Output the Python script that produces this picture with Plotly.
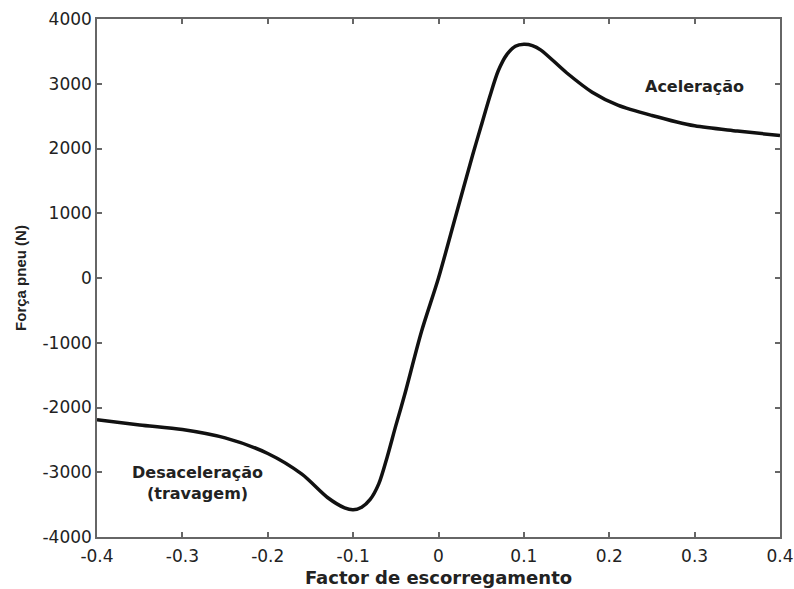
import plotly.graph_objects as go

slip = [-0.4, -0.35, -0.3, -0.25, -0.2, -0.16, -0.13, -0.11, -0.1, -0.09, -0.08, -0.07,
        -0.06, -0.05, -0.04, -0.02, 0.0, 0.02, 0.04, 0.05, 0.06, 0.07, 0.08, 0.09, 0.1,
        0.11, 0.12, 0.15, 0.18, 0.21, 0.25, 0.3, 0.35, 0.4]
force = [-2190, -2270, -2340, -2470, -2710, -3030, -3390, -3550, -3580, -3540, -3420, -3180,
         -2760, -2280, -1820, -830, 0, 950, 1900, 2350, 2800, 3200, 3450, 3580, 3610,
         3590, 3520, 3170, 2870, 2670, 2510, 2350, 2270, 2200]

x_ticks = [-0.4, -0.3, -0.2, -0.1, 0, 0.1, 0.2, 0.3, 0.4]
x_tick_text = ["-0.4", "-0.3", "-0.2", "-0.1", "0", "0.1", "0.2", "0.3", "0.4"]
y_ticks = [-4000, -3000, -2000, -1000, 0, 1000, 2000, 3000, 4000]
y_tick_text = ["-4000", "-3000", "-2000", "-1000", "0", "1000", "2000", "3000", "4000"]

WIDE = "DejaVu Sans, Verdana, sans-serif"
NARROW = "Liberation Sans, Arial, sans-serif"
INK = "#222222"

fig = go.Figure()
fig.add_trace(go.Scatter(x=slip, y=force, mode="lines",
                         line=dict(color="#111111", width=3.5, shape="spline", smoothing=0.8),
                         showlegend=False, hoverinfo="skip"))

axis_common = dict(showgrid=False, zeroline=False, showline=True, linecolor="#666666",
                   linewidth=1.5, mirror="ticks", ticks="inside", ticklen=5,
                   tickcolor="#666666", tickwidth=1.5, automargin=False,
                   tickfont=dict(family=WIDE, size=17, color=INK))

fig.update_xaxes(range=[-0.4, 0.4], tickvals=x_ticks, ticktext=x_tick_text,
                 ticklabelstandoff=3,
                 title=dict(text="<b>Factor de escorregamento</b>",
                            font=dict(family=WIDE, size=18, color=INK), standoff=6),
                 **axis_common)
fig.update_yaxes(range=[-4000, 4000], tickvals=y_ticks, ticktext=y_tick_text,
                 title=dict(text="<b>Força pneu (N)</b>",
                            font=dict(family=NARROW, size=15, color=INK), standoff=12),
                 **axis_common)

fig.add_annotation(x=0.3, y=2950, text="<b>Aceleração</b>", showarrow=False,
                   font=dict(family=WIDE, size=16, color=INK), xanchor="center", yanchor="middle")
fig.add_annotation(x=-0.282, y=-3166, text="<b>Desaceleração<br>(travagem)</b>", showarrow=False,
                   font=dict(family=WIDE, size=16, color=INK), xanchor="center", yanchor="middle")

fig.update_layout(width=794, height=589, paper_bgcolor="white", plot_bgcolor="white",
                  margin=dict(l=97, r=14, t=19, b=52))

fig.write_html("out.html")
